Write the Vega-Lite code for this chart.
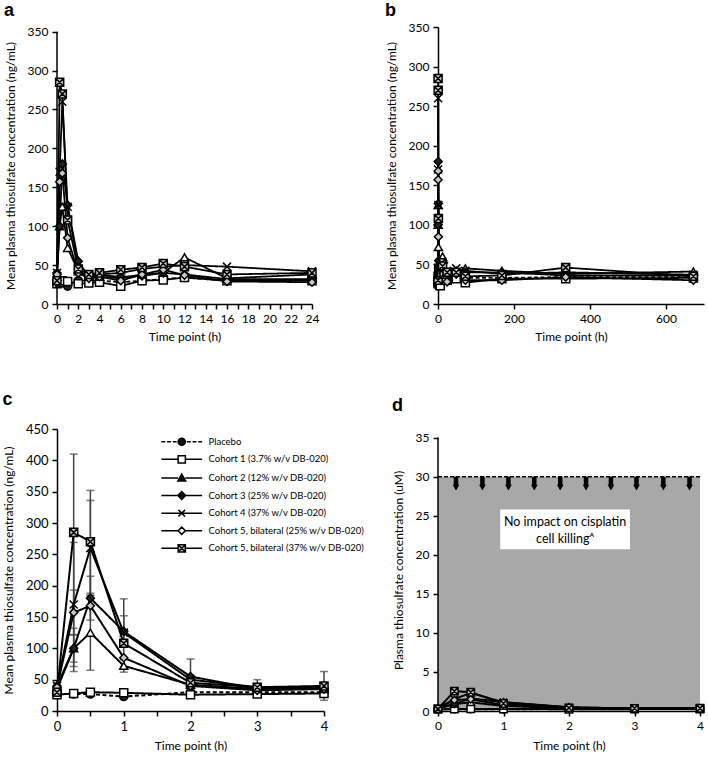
{
"$schema": "https://vega.github.io/schema/vega-lite/v6.json",
"background": "white",
"padding": {"left": 2, "top": 1, "right": 2, "bottom": 2},
"columns": 2,
"align": "each",
"bounds": "flush",
"spacing": {"row": 125, "column": 114},
"config": {
  "view": {"stroke": null},
  "font": "Lato",
  "axis": {"domainColor": "black", "domainWidth": 1.5, "tickColor": "black", "tickWidth": 1.5, "tickSize": 5, "labelColor": "black", "labelFontSize": 12, "labelFont": "Lato", "titleFont": "Lato", "titleFontSize": 12, "titleFontWeight": "normal", "titleColor": "black", "grid": false, "labelPadding": 4, "titlePadding": 10, "labelOverlap": false, "labelFlush": false},
  "title": {"fontSize": 18, "fontWeight": "bold", "font": "Liberation Sans", "anchor": "start", "frame": "bounds", "color": "black"}
},
"datasets": {
  "pk": [
    {"s":"P","t":0,"c":27,"um":0.24},{"s":"P","t":0.25,"c":27,"um":0.24},{"s":"P","t":0.5,"c":27,"um":0.24},{"s":"P","t":1,"c":23,"um":0.21},{"s":"P","t":2,"c":30,"um":0.27},{"s":"P","t":3,"c":30,"um":0.27},{"s":"P","t":4,"c":30,"um":0.27},{"s":"P","t":6,"c":28},{"s":"P","t":8,"c":30},{"s":"P","t":10,"c":32},{"s":"P","t":12,"c":34},{"s":"P","t":16,"c":30},{"s":"P","t":24,"c":30},{"s":"P","t":48,"c":33},{"s":"P","t":72,"c":33},{"s":"P","t":168,"c":33},{"s":"P","t":336,"c":34},{"s":"P","t":672,"c":34},
    {"s":"C1","t":0,"c":26,"um":0.23},{"s":"C1","t":0.25,"c":28,"um":0.25},{"s":"C1","t":0.5,"c":30,"um":0.27},{"s":"C1","t":1,"c":29,"um":0.26},{"s":"C1","t":2,"c":26,"um":0.23},{"s":"C1","t":3,"c":27,"um":0.24},{"s":"C1","t":4,"c":28,"um":0.25},{"s":"C1","t":6,"c":23},{"s":"C1","t":8,"c":30},{"s":"C1","t":10,"c":31},{"s":"C1","t":12,"c":34},{"s":"C1","t":16,"c":30},{"s":"C1","t":24,"c":30},{"s":"C1","t":48,"c":32},{"s":"C1","t":72,"c":27},{"s":"C1","t":168,"c":32},{"s":"C1","t":336,"c":32},{"s":"C1","t":672,"c":33},
    {"s":"C2","t":0,"c":35,"um":0.31},{"s":"C2","t":0.25,"c":100,"um":0.89},{"s":"C2","t":0.5,"c":125,"um":1.11},{"s":"C2","t":1,"c":72,"um":0.64},{"s":"C2","t":2,"c":42,"um":0.37},{"s":"C2","t":3,"c":35,"um":0.31},{"s":"C2","t":4,"c":35,"um":0.31},{"s":"C2","t":6,"c":33},{"s":"C2","t":8,"c":38},{"s":"C2","t":10,"c":40},{"s":"C2","t":12,"c":60},{"s":"C2","t":16,"c":33},{"s":"C2","t":24,"c":38},{"s":"C2","t":48,"c":42},{"s":"C2","t":72,"c":45},{"s":"C2","t":168,"c":42},{"s":"C2","t":336,"c":38},{"s":"C2","t":672,"c":41},
    {"s":"C3","t":0,"c":40,"um":0.36},{"s":"C3","t":0.25,"c":100,"um":0.89},{"s":"C3","t":0.5,"c":180,"um":1.61},{"s":"C3","t":1,"c":127,"um":1.13},{"s":"C3","t":2,"c":55,"um":0.49},{"s":"C3","t":3,"c":35,"um":0.31},{"s":"C3","t":4,"c":37,"um":0.33},{"s":"C3","t":6,"c":35},{"s":"C3","t":8,"c":36},{"s":"C3","t":10,"c":40},{"s":"C3","t":12,"c":38},{"s":"C3","t":16,"c":32},{"s":"C3","t":24,"c":32},{"s":"C3","t":48,"c":38},{"s":"C3","t":72,"c":40},{"s":"C3","t":168,"c":40},{"s":"C3","t":336,"c":36},{"s":"C3","t":672,"c":36},
    {"s":"C4","t":0,"c":40,"um":0.36},{"s":"C4","t":0.25,"c":170,"um":1.52},{"s":"C4","t":0.5,"c":260,"um":2.32},{"s":"C4","t":1,"c":125,"um":1.11},{"s":"C4","t":2,"c":50,"um":0.45},{"s":"C4","t":3,"c":38,"um":0.34},{"s":"C4","t":4,"c":38,"um":0.34},{"s":"C4","t":6,"c":40},{"s":"C4","t":8,"c":45},{"s":"C4","t":10,"c":48},{"s":"C4","t":12,"c":50},{"s":"C4","t":16,"c":48},{"s":"C4","t":24,"c":42},{"s":"C4","t":48,"c":45},{"s":"C4","t":72,"c":42},{"s":"C4","t":168,"c":38},{"s":"C4","t":336,"c":40},{"s":"C4","t":672,"c":37},
    {"s":"C5a","t":0,"c":38,"um":0.34},{"s":"C5a","t":0.25,"c":157,"um":1.40},{"s":"C5a","t":0.5,"c":168,"um":1.50},{"s":"C5a","t":1,"c":85,"um":0.76},{"s":"C5a","t":2,"c":40,"um":0.36},{"s":"C5a","t":3,"c":33,"um":0.29},{"s":"C5a","t":4,"c":35,"um":0.31},{"s":"C5a","t":6,"c":30},{"s":"C5a","t":8,"c":38},{"s":"C5a","t":10,"c":44},{"s":"C5a","t":12,"c":37},{"s":"C5a","t":16,"c":29},{"s":"C5a","t":24,"c":28},{"s":"C5a","t":48,"c":38},{"s":"C5a","t":72,"c":30},{"s":"C5a","t":168,"c":30},{"s":"C5a","t":336,"c":34},{"s":"C5a","t":672,"c":30},
    {"s":"C5b","t":0,"c":30,"um":0.27},{"s":"C5b","t":0.25,"c":285,"um":2.54},{"s":"C5b","t":0.5,"c":270,"um":2.41},{"s":"C5b","t":1,"c":108,"um":0.96},{"s":"C5b","t":2,"c":45,"um":0.40},{"s":"C5b","t":3,"c":38,"um":0.34},{"s":"C5b","t":4,"c":40,"um":0.36},{"s":"C5b","t":6,"c":44},{"s":"C5b","t":8,"c":47},{"s":"C5b","t":10,"c":52},{"s":"C5b","t":12,"c":48},{"s":"C5b","t":16,"c":38},{"s":"C5b","t":24,"c":40},{"s":"C5b","t":48,"c":40},{"s":"C5b","t":72,"c":35},{"s":"C5b","t":168,"c":36},{"s":"C5b","t":336,"c":46},{"s":"C5b","t":672,"c":35}
  ],
  "err": [
    {"s":"C5b","t":0.25,"lo":160,"hi":410},{"s":"C4","t":0.25,"lo":71,"hi":269},{"s":"C5a","t":0.25,"lo":121,"hi":193},{"s":"C3","t":0.25,"lo":63,"hi":132},{"s":"C2","t":0.25,"lo":78,"hi":122},
    {"s":"C5b","t":0.5,"lo":188,"hi":352},{"s":"C4","t":0.5,"lo":184,"hi":336},{"s":"C3","t":0.5,"lo":145,"hi":215},{"s":"C2","t":0.5,"lo":65,"hi":185},
    {"s":"C4","t":1,"lo":71,"hi":179},{"s":"C3","t":1,"lo":102,"hi":152},{"s":"C2","t":1,"lo":62,"hi":82},
    {"s":"C3","t":2,"lo":27,"hi":83},{"s":"C5b","t":3,"lo":26,"hi":50},{"s":"C5b","t":4,"lo":17,"hi":63}
  ],
  "leg": [
    {"name":"Placebo"},{"name":"Cohort 1 (3.7% w/v DB-020)"},{"name":"Cohort 2 (12% w/v DB-020)"},{"name":"Cohort 3 (25% w/v DB-020)"},{"name":"Cohort 4 (37% w/v DB-020)"},{"name":"Cohort 5, bilateral (25% w/v DB-020)"},{"name":"Cohort 5, bilateral (37% w/v DB-020)"}
  ],
  "arrows": [{"t":0.275},{"t":0.678},{"t":1.075},{"t":1.47},{"t":1.866},{"t":2.26},{"t":2.64},{"t":3.03},{"t":3.44},{"t":3.84}],
  "one": [{"k":1}]
},
"concat": [
  {
    "title": {"text": "a", "offset": 6},
    "width": 255, "height": 277,
    "layer": [
      {"data": {"name": "one"}, "mark": {"type": "rule", "color": "black", "strokeWidth": 1.5},
       "encoding": {
         "x": {"datum": 0, "type": "quantitative", "scale": {"domain": [0, 24], "nice": false}, "axis": {"values": [0,1,2,3,4,5,6,7,8,9,10,11,12,13,14,15,16,17,18,19,20,21,22,23,24], "labelExpr": "datum.value % 2 == 0 ? format(datum.value, 'd') : ''", "labelOverlap": false, "labelFlush": false, "title": "Time point (h)", "titlePadding": 7}},
         "y": {"datum": 0, "type": "quantitative", "scale": {"domain": [0, 356], "nice": false}, "axis": {"values": [0,50,100,150,200,250,300,350], "labelOverlap": false, "domain": false, "title": "Mean plasma thiosulfate concentration (ng/mL)"}},
         "y2": {"datum": 350}}},
      {"data": {"name": "pk"}, "transform": [{"filter": "datum.t <= 24"}],
       "mark": {"type": "line", "color": "black", "strokeWidth": 1.8},
       "encoding": {
         "x": {"field": "t", "type": "quantitative", "scale": {"domain": [0, 24], "nice": false}, "axis": {"values": [0,1,2,3,4,5,6,7,8,9,10,11,12,13,14,15,16,17,18,19,20,21,22,23,24], "labelExpr": "datum.value % 2 == 0 ? format(datum.value, 'd') : ''", "labelOverlap": false, "labelFlush": false, "title": "Time point (h)", "titlePadding": 7}},
         "y": {"field": "c", "type": "quantitative", "scale": {"domain": [0, 356], "nice": false}, "axis": {"values": [0,50,100,150,200,250,300,350], "labelOverlap": false, "domain": false, "title": "Mean plasma thiosulfate concentration (ng/mL)"}},
         "strokeDash": {"field": "s", "type": "nominal", "scale": {"domain": ["P","C1","C2","C3","C4","C5a","C5b"], "range": [[4,2.5],[1,0],[1,0],[1,0],[1,0],[1,0],[1,0]]}, "legend": null}}},
      {"data": {"name": "pk"}, "transform": [{"filter": "datum.t <= 24"}],
       "mark": {"type": "point", "filled": true, "stroke": "black", "strokeWidth": 1.5, "size": 65, "opacity": 1},
       "encoding": {
         "x": {"field": "t", "type": "quantitative", "axis": {"values": [0,1,2,3,4,5,6,7,8,9,10,11,12,13,14,15,16,17,18,19,20,21,22,23,24], "labelExpr": "datum.value % 2 == 0 ? format(datum.value, 'd') : ''", "labelOverlap": false, "labelFlush": false, "title": "Time point (h)", "titlePadding": 7}},
         "y": {"field": "c", "type": "quantitative", "axis": {"values": [0,50,100,150,200,250,300,350], "labelOverlap": false, "domain": false, "title": "Mean plasma thiosulfate concentration (ng/mL)"}},
         "shape": {"field": "s", "type": "nominal", "scale": {"domain": ["P","C1","C2","C3","C4","C5a","C5b"], "range": ["circle","square","triangle-up","diamond","M-1,-1L1,1M-1,1L1,-1","diamond","M-1,-1H1V1H-1ZM-1,-1L1,1M-1,1L1,-1"]}, "legend": null},
         "fill": {"field": "s", "type": "nominal", "scale": {"domain": ["P","C1","C2","C3","C4","C5a","C5b"], "range": ["#222222","#ffffff","#ffffff","#222222","#222222","#c8c8c8","#c8c8c8"]}, "legend": null}}}
    ]
  },
  {
    "title": {"text": "b", "offset": 1},
    "width": 266, "height": 277,
    "layer": [
      {"data": {"name": "pk"},
       "mark": {"type": "line", "color": "black", "strokeWidth": 1.8},
       "encoding": {
         "x": {"field": "t", "type": "quantitative", "scale": {"domain": [0, 700], "nice": false}, "axis": {"values": [0,200,400,600], "labelOverlap": false, "labelFlush": false, "title": "Time point (h)", "titlePadding": 7}},
         "y": {"field": "c", "type": "quantitative", "scale": {"domain": [0, 350], "nice": false}, "axis": {"values": [0,50,100,150,200,250,300,350], "labelOverlap": false, "title": "Mean plasma thiosulfate concentration (ng/mL)"}},
         "strokeDash": {"field": "s", "type": "nominal", "scale": {"domain": ["P","C1","C2","C3","C4","C5a","C5b"], "range": [[4,2.5],[1,0],[1,0],[1,0],[1,0],[1,0],[1,0]]}, "legend": null}}},
      {"data": {"name": "pk"},
       "mark": {"type": "point", "filled": true, "stroke": "black", "strokeWidth": 1.5, "size": 65, "opacity": 1},
       "encoding": {
         "x": {"field": "t", "type": "quantitative", "axis": {"values": [0,200,400,600], "labelOverlap": false, "labelFlush": false, "title": "Time point (h)", "titlePadding": 7}},
         "y": {"field": "c", "type": "quantitative", "axis": {"values": [0,50,100,150,200,250,300,350], "labelOverlap": false, "title": "Mean plasma thiosulfate concentration (ng/mL)"}},
         "shape": {"field": "s", "type": "nominal", "scale": {"domain": ["P","C1","C2","C3","C4","C5a","C5b"], "range": ["circle","square","triangle-up","diamond","M-1,-1L1,1M-1,1L1,-1","diamond","M-1,-1H1V1H-1ZM-1,-1L1,1M-1,1L1,-1"]}, "legend": null},
         "fill": {"field": "s", "type": "nominal", "scale": {"domain": ["P","C1","C2","C3","C4","C5a","C5b"], "range": ["#222222","#ffffff","#ffffff","#222222","#222222","#c8c8c8","#c8c8c8"]}, "legend": null}}}
    ]
  },
  {
    "title": {"text": "c", "offset": 14},
    "width": 267, "height": 282,
    "resolve": {"scale": {"shape": "independent", "fill": "independent"}},
    "layer": [
      {"data": {"name": "err"},
       "mark": {"type": "errorbar", "ticks": {"size": 8}, "color": "#444444", "thickness": 1.5},
       "encoding": {
         "x": {"field": "t", "type": "quantitative", "scale": {"domain": [0, 4], "nice": false}, "axis": {"values": [0,0.5,1,1.5,2,2.5,3,3.5,4], "labelExpr": "datum.value % 1 == 0 ? format(datum.value, 'd') : ''", "labelOverlap": false, "labelFlush": false, "title": "Time point (h)", "titlePadding": 7, "labelFontSize": 13}},
         "y": {"field": "lo", "type": "quantitative", "scale": {"domain": [0, 450], "nice": false}, "axis": {"values": [0,50,100,150,200,250,300,350,400,450], "labelOverlap": false, "title": "Mean plasma thiosulfate concentration (ng/mL)", "labelFontSize": 13}},
         "y2": {"field": "hi"}}},
      {"data": {"name": "pk"}, "transform": [{"filter": "datum.t <= 4"}],
       "mark": {"type": "line", "color": "black", "strokeWidth": 2},
       "encoding": {
         "x": {"field": "t", "type": "quantitative", "scale": {"domain": [0, 4], "nice": false}, "axis": {"values": [0,0.5,1,1.5,2,2.5,3,3.5,4], "labelExpr": "datum.value % 1 == 0 ? format(datum.value, 'd') : ''", "labelOverlap": false, "labelFlush": false, "title": "Time point (h)", "titlePadding": 7, "labelFontSize": 13}},
         "y": {"field": "c", "type": "quantitative", "scale": {"domain": [0, 450], "nice": false}, "axis": {"values": [0,50,100,150,200,250,300,350,400,450], "labelOverlap": false, "title": "Mean plasma thiosulfate concentration (ng/mL)", "labelFontSize": 13}},
         "strokeDash": {"field": "s", "type": "nominal", "scale": {"domain": ["P","C1","C2","C3","C4","C5a","C5b"], "range": [[4,2.5],[1,0],[1,0],[1,0],[1,0],[1,0],[1,0]]}, "legend": null}}},
      {"data": {"name": "pk"}, "transform": [{"filter": "datum.t <= 4"}],
       "mark": {"type": "point", "filled": true, "stroke": "black", "strokeWidth": 1.5, "size": 65, "opacity": 1},
       "encoding": {
         "x": {"field": "t", "type": "quantitative", "axis": {"values": [0,0.5,1,1.5,2,2.5,3,3.5,4], "labelExpr": "datum.value % 1 == 0 ? format(datum.value, 'd') : ''", "labelOverlap": false, "labelFlush": false, "title": "Time point (h)", "titlePadding": 7, "labelFontSize": 13}},
         "y": {"field": "c", "type": "quantitative", "axis": {"values": [0,50,100,150,200,250,300,350,400,450], "labelOverlap": false, "title": "Mean plasma thiosulfate concentration (ng/mL)", "labelFontSize": 13}},
         "shape": {"field": "s", "type": "nominal", "scale": {"domain": ["P","C1","C2","C3","C4","C5a","C5b"], "range": ["circle","square","triangle-up","diamond","M-1,-1L1,1M-1,1L1,-1","diamond","M-1,-1H1V1H-1ZM-1,-1L1,1M-1,1L1,-1"]}, "legend": null},
         "fill": {"field": "s", "type": "nominal", "scale": {"domain": ["P","C1","C2","C3","C4","C5a","C5b"], "range": ["#222222","#ffffff","#ffffff","#222222","#222222","#c8c8c8","#c8c8c8"]}, "legend": null}}},
      {"data": {"name": "leg"}, "transform": [{"filter": "false"}],
       "mark": {"type": "point", "filled": true, "stroke": "black", "strokeWidth": 1.8, "opacity": 1},
       "encoding": {
         "shape": {"field": "name", "type": "nominal",
           "scale": {"domain": ["Placebo","Cohort 1 (3.7% w/v DB-020)","Cohort 2 (12% w/v DB-020)","Cohort 3 (25% w/v DB-020)","Cohort 4 (37% w/v DB-020)","Cohort 5, bilateral (25% w/v DB-020)","Cohort 5, bilateral (37% w/v DB-020)"],
             "range": [
               "M-6.8,0H-5.5M-4.9,0H-3.6M-3,0H-1.7M1.7,0H3M3.6,0H4.9M5.5,0H6.8M-1.2,0A1.2,1.2 0 1,0 1.2,0A1.2,1.2 0 1,0 -1.2,0Z",
               "M-6.8,0H-1.2M1.2,0H6.8M-1.2,-1.2H1.2V1.2H-1.2Z",
               "M-6.8,0H-1.2M1.2,0H6.8M0,-1.3L1.3,1L-1.3,1Z",
               "M-6.8,0H-1.2M1.2,0H6.8M0,-1.3L1.3,0L0,1.3L-1.3,0Z",
               "M-6.8,0H6.8M-1.1,-1.1L1.1,1.1M-1.1,1.1L1.1,-1.1",
               "M-6.8,0H-1.2M1.2,0H6.8M0,-1.2L1.2,0L0,1.2L-1.2,0Z",
               "M-6.8,0H-1.2M1.2,0H6.8M-1.2,-1.2H1.2V1.2H-1.2ZM-1.2,-1.2L1.2,1.2M-1.2,1.2L1.2,-1.2"
             ]},
           "legend": {"title": null, "orient": "none", "legendX": 120, "legendY": 8, "symbolSize": 36, "labelFontSize": 9.5, "labelFont": "Lato", "labelColor": "black", "labelOffset": 22, "rowPadding": 3.6,
             "encode": {"symbols": {"update": {"stroke": {"value": "black"}, "strokeWidth": {"value": 1.8}, "opacity": {"value": 1}}}}}},
         "fill": {"field": "name", "type": "nominal",
           "scale": {"domain": ["Placebo","Cohort 1 (3.7% w/v DB-020)","Cohort 2 (12% w/v DB-020)","Cohort 3 (25% w/v DB-020)","Cohort 4 (37% w/v DB-020)","Cohort 5, bilateral (25% w/v DB-020)","Cohort 5, bilateral (37% w/v DB-020)"],
             "range": ["#111111","#ffffff","#111111","#111111","#111111","#ffffff","#c8c8c8"]},
           "legend": {"title": null, "orient": "none", "legendX": 120, "legendY": 8, "symbolSize": 36, "labelFontSize": 9.5, "labelFont": "Lato", "labelColor": "black", "labelOffset": 22, "rowPadding": 3.6,
             "encode": {"symbols": {"update": {"stroke": {"value": "black"}, "strokeWidth": {"value": 1.8}, "opacity": {"value": 1}}}}}}}}
    ]
  },
  {
    "title": {"text": "d", "offset": 14},
    "width": 262, "height": 282,
    "layer": [
      {"data": {"name": "one"}, "mark": {"type": "rect", "color": "#a8a8a8"},
       "encoding": {
         "x": {"datum": 0, "type": "quantitative", "scale": {"domain": [0, 4], "nice": false}, "axis": {"values": [0,0.5,1,1.5,2,2.5,3,3.5,4], "labelExpr": "datum.value % 1 == 0 ? format(datum.value, 'd') : ''", "labelOverlap": false, "labelFlush": false, "title": "Time point (h)", "titlePadding": 9}},
         "x2": {"datum": 4},
         "y": {"datum": 0, "type": "quantitative", "scale": {"domain": [0, 36.1], "nice": false}, "axis": {"values": [0,5,10,15,20,25,30,35], "labelOverlap": false, "domain": false, "title": "Plasma thiosulfate concentration (uM)"}},
         "y2": {"datum": 30}}},
      {"data": {"name": "one"}, "mark": {"type": "rule", "color": "black", "strokeWidth": 1.5, "strokeDash": [4, 2]},
       "encoding": {"x": {"datum": 0, "type": "quantitative"}, "x2": {"datum": 4}, "y": {"datum": 30, "type": "quantitative"}}},
      {"data": {"name": "one"}, "mark": {"type": "rect", "color": "white"},
       "encoding": {"x": {"datum": 0.95, "type": "quantitative"}, "x2": {"datum": 2.93}, "y": {"datum": 20.7, "type": "quantitative"}, "y2": {"datum": 25.8}}},
      {"data": {"name": "one"}, "mark": {"type": "text", "text": ["No impact on cisplatin", "cell killingᴬ"], "baseline": "top", "align": "center", "fontSize": 12.5, "lineHeight": 17, "font": "Lato", "color": "black"},
       "encoding": {"x": {"datum": 1.94, "type": "quantitative"}, "y": {"datum": 24.9, "type": "quantitative"}}},
      {"data": {"name": "arrows"}, "mark": {"type": "rule", "color": "black", "strokeWidth": 4.5},
       "encoding": {"x": {"field": "t", "type": "quantitative"}, "y": {"datum": 30, "type": "quantitative"}, "y2": {"datum": 28.9}}},
      {"data": {"name": "arrows"}, "mark": {"type": "point", "shape": "triangle-down", "filled": true, "color": "black", "size": 45, "opacity": 1},
       "encoding": {"x": {"field": "t", "type": "quantitative"}, "y": {"datum": 28.6, "type": "quantitative"}}},
      {"data": {"name": "one"}, "mark": {"type": "rule", "color": "black", "strokeWidth": 1.5},
       "encoding": {"x": {"datum": 0, "type": "quantitative"}, "y": {"datum": 0, "type": "quantitative"}, "y2": {"datum": 35}}},
      {"data": {"name": "pk"}, "transform": [{"filter": "datum.t <= 4"}],
       "mark": {"type": "line", "color": "black", "strokeWidth": 2},
       "encoding": {
         "x": {"field": "t", "type": "quantitative", "axis": {"values": [0,0.5,1,1.5,2,2.5,3,3.5,4], "labelExpr": "datum.value % 1 == 0 ? format(datum.value, 'd') : ''", "labelOverlap": false, "labelFlush": false, "title": "Time point (h)", "titlePadding": 9}},
         "y": {"field": "um", "type": "quantitative", "axis": {"values": [0,5,10,15,20,25,30,35], "labelOverlap": false, "domain": false, "title": "Plasma thiosulfate concentration (uM)"}},
         "strokeDash": {"field": "s", "type": "nominal", "scale": {"domain": ["P","C1","C2","C3","C4","C5a","C5b"], "range": [[4,2.5],[1,0],[1,0],[1,0],[1,0],[1,0],[1,0]]}, "legend": null}}},
      {"data": {"name": "pk"}, "transform": [{"filter": "datum.t <= 4"}],
       "mark": {"type": "point", "filled": true, "stroke": "black", "strokeWidth": 1.5, "size": 55, "opacity": 1},
       "encoding": {
         "x": {"field": "t", "type": "quantitative", "axis": {"values": [0,0.5,1,1.5,2,2.5,3,3.5,4], "labelExpr": "datum.value % 1 == 0 ? format(datum.value, 'd') : ''", "labelOverlap": false, "labelFlush": false, "title": "Time point (h)", "titlePadding": 9}},
         "y": {"field": "um", "type": "quantitative", "axis": {"values": [0,5,10,15,20,25,30,35], "labelOverlap": false, "domain": false, "title": "Plasma thiosulfate concentration (uM)"}},
         "shape": {"field": "s", "type": "nominal", "scale": {"domain": ["P","C1","C2","C3","C4","C5a","C5b"], "range": ["circle","square","triangle-up","diamond","M-1,-1L1,1M-1,1L1,-1","diamond","M-1,-1H1V1H-1ZM-1,-1L1,1M-1,1L1,-1"]}, "legend": null},
         "fill": {"field": "s", "type": "nominal", "scale": {"domain": ["P","C1","C2","C3","C4","C5a","C5b"], "range": ["#222222","#ffffff","#ffffff","#222222","#222222","#c8c8c8","#c8c8c8"]}, "legend": null}}}
    ]
  }
]
}
